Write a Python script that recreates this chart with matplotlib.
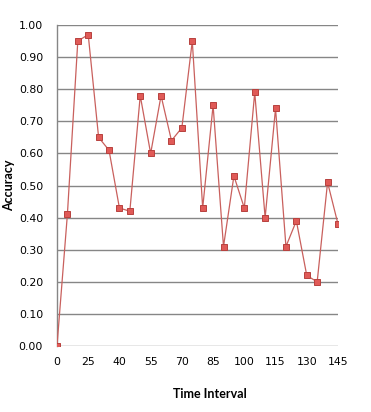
import matplotlib
matplotlib.use("Agg")
import matplotlib.pyplot as plt
import numpy as np

# accuracy per time interval
accuracy = [0.00, 0.41, 0.95, 0.97, 0.65, 0.61, 0.43, 0.42, 0.78, 0.60,
            0.78, 0.64, 0.68, 0.95, 0.43, 0.75, 0.31, 0.53, 0.43, 0.79,
            0.40, 0.74, 0.31, 0.39, 0.22, 0.20, 0.51, 0.38]
x_labels = ['0', '25', '40', '55', '70', '85', '100', '115', '130', '145']
y_ticks = [0.0, 0.1, 0.2, 0.3, 0.4, 0.5, 0.6, 0.7, 0.8, 0.9, 1.0]

fig = plt.figure(figsize=(3.71, 4.12), dpi=100)
ax = fig.add_axes([0.1536, 0.160, 0.7574, 0.7793])

idx = np.arange(len(accuracy))
ax.plot(idx, accuracy, color='#C9605D', lw=0.9, marker='s', markersize=4.0,
        markerfacecolor='#E05A57', markeredgecolor='#B8413E', markeredgewidth=0.7,
        zorder=3)

ax.set_xlim(0, len(accuracy) - 1)
ax.set_ylim(0, 1.0)
ax.set_yticks(y_ticks)
ax.set_yticklabels(['%.2f' % v for v in y_ticks])
ax.set_xticks(idx[::3])
ax.set_xticklabels(x_labels)
ax.yaxis.grid(True, color='#868686', lw=1.0)
ax.set_axisbelow(True)

for s in ['top', 'right', 'bottom']:
    ax.spines[s].set_visible(False)
ax.spines['left'].set_color('#868686')
ax.spines['left'].set_linewidth(1.0)

ax.tick_params(axis='both', length=0, labelsize=7.8, colors='black')
ax.tick_params(axis='y', pad=10)
ax.tick_params(axis='x', pad=8)

ax.set_xlabel('Time Interval', fontsize=9, fontweight='bold', family='Lato')
ax.set_ylabel('Accuracy', fontsize=9, fontweight='bold', family='Lato')
ax.xaxis.set_label_coords(0.545, -0.13)
ax.yaxis.set_label_coords(-0.15, 0.5)

fig.savefig('out.png', dpi=100)
